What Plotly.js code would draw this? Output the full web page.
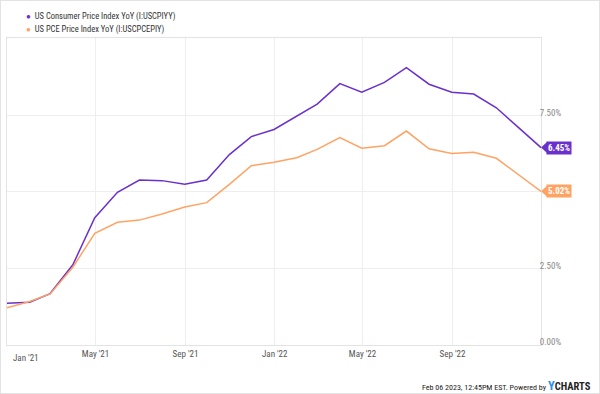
<!DOCTYPE html>
<html>
<head>
<meta charset="utf-8">
<script src="https://cdn.plot.ly/plotly-3.0.1.min.js"></script>
<style>
  html, body { margin: 0; padding: 0; background: #fff; }
  #chart { width: 598px; height: 392px; border: 1px solid #e3e3e3; }
</style>
</head>
<body>
<div id="chart"></div>
<script>
// ---- data ----
const dates = ['2020-12-31','2021-01-31','2021-02-28','2021-03-31','2021-04-30','2021-05-31','2021-06-30',
  '2021-07-31','2021-08-31','2021-09-30','2021-10-31','2021-11-30','2021-12-31','2022-01-31','2022-02-28',
  '2022-03-31','2022-04-30','2022-05-31','2022-06-30','2022-07-31','2022-08-31','2022-09-30','2022-10-31',
  '2022-11-30','2022-12-31'];
const cpi = [1.36,1.40,1.68,2.62,4.16,4.99,5.39,5.37,5.25,5.39,6.22,6.81,7.04,7.48,7.87,8.54,8.26,8.58,9.06,8.52,8.26,8.20,7.75,7.11,6.45];
const pce = [1.22,1.42,1.67,2.54,3.65,4.01,4.08,4.28,4.51,4.65,5.25,5.86,5.97,6.12,6.39,6.78,6.43,6.51,6.99,6.41,6.26,6.30,6.10,5.56,5.02];
const seriesNames = ['US Consumer Price Index YoY (I:USCPIYY)', 'US PCE Price Index YoY (I:USCPCEPIY)'];
const xTickVals = ['2021-01-01','2021-05-01','2021-09-01','2022-01-01','2022-05-01','2022-09-01'];
const xTickText = ["Jan '21","May '21","Sep '21","Jan '22","May '22","Sep '22"];
const yTickVals = [0, 2.5, 5, 7.5];
const yTickText = ['0.00%','2.50%','','7.50%'];   // 5.00% sits under the 5.02% tag in the reference
const yRange = [0, 10.03];
const footer = 'Feb 06 2023, 12:45PM EST. Powered by';

// ---- styles ----
const FONT = '"Roboto Condensed", "Liberation Sans Narrow", "Arial Narrow", Roboto, sans-serif';
const colors = ['#6a30cc', '#ffa364'];
const series = [cpi, pce];

const traces = series.map((vals, i) => ({
  x: dates, y: vals, type: 'scatter', mode: 'lines',
  name: seriesNames[i], line: { color: colors[i], width: 1.5 },
  showlegend: false, hoverinfo: 'skip'
}));

const n = dates.length - 1;
const annotations = [];
const shapes = [];

// legend rows
seriesNames.forEach((nm, i) => {
  annotations.push({
    xref: 'paper', yref: 'paper', x: 0, y: 1, xanchor: 'left', yanchor: 'middle',
    xshift: 17, yshift: 22 - 13 * i, showarrow: false,
    text: '<span style="color:' + colors[i] + ';font-size:8px">●</span>\u00a0 ' + nm,
    font: { family: FONT, size: 8.5, color: '#333333' }
  });
});

// end-value tags (last point of each series)
series.forEach((vals, i) => {
  annotations.push({
    x: dates[n], y: vals[n], xref: 'x', yref: 'y', xanchor: 'left', yanchor: 'middle',
    xshift: 5, showarrow: false, text: '<b>' + vals[n].toFixed(2) + '%</b>',
    bgcolor: colors[i], borderpad: 1,
    font: { family: FONT, size: 9, color: '#ffffff' }
  });
  const yPaper = (vals[n] - yRange[0]) / (yRange[1] - yRange[0]);
  shapes.push({
    type: 'path', xref: 'paper', yref: 'paper', xsizemode: 'pixel', ysizemode: 'pixel',
    xanchor: 1, yanchor: yPaper, path: 'M0,0 L6,5.5 L6,-5.5 Z',
    fillcolor: colors[i], line: { width: 0 }, layer: 'above'
  });
});

// first x tick label (shifted to stay inside, as in the reference)
annotations.push({
  x: xTickVals[0], y: 0, xref: 'x', yref: 'paper', xanchor: 'left', yanchor: 'top',
  xshift: 3, yshift: -6, showarrow: false, text: xTickText[0],
  font: { family: FONT, size: 9, color: '#555555' }
});

// footer
annotations.push({
  xref: 'paper', yref: 'paper', x: 1, y: 0, xanchor: 'right', yanchor: 'middle',
  xshift: 52, yshift: -40, showarrow: false,
  text: footer + ' <b><span style="color:#2b8fe8;font-size:12.5px">Y</span><span style="font-size:10.5px">CHARTS</span></b>',
  font: { family: FONT, size: 8, color: '#222222' }
});

const layout = {
  width: 598, height: 392,
  margin: { l: 6, r: 58, t: 37, b: 48, pad: 0 },
  paper_bgcolor: '#ffffff', plot_bgcolor: '#ffffff',
  showlegend: false,
  font: { family: FONT, size: 9, color: '#555555' },
  xaxis: {
    type: 'date', range: [dates[0], dates[n]],
    tickvals: xTickVals.slice(1), ticktext: xTickText.slice(1),
    showgrid: true, gridcolor: '#eeeeee', gridwidth: 1,
    showline: true, mirror: true, linecolor: '#e3e3e3', linewidth: 1,
    zeroline: false, ticks: '', tickfont: { family: FONT, size: 9, color: '#555555' }
  },
  yaxis: {
    range: yRange, side: 'right',
    tickvals: yTickVals, ticktext: yTickText,
    showgrid: true, gridcolor: '#eeeeee', gridwidth: 1,
    showline: true, mirror: true, linecolor: '#e3e3e3', linewidth: 1,
    zeroline: false, ticks: '', ticklabelstandoff: -4, ticklabelshift: -3,
    tickfont: { family: FONT, size: 9, color: '#888888' }
  },
  annotations: annotations,
  shapes: shapes
};

Plotly.newPlot('chart', traces, layout, { displayModeBar: false, staticPlot: true });
</script>
</body>
</html>
